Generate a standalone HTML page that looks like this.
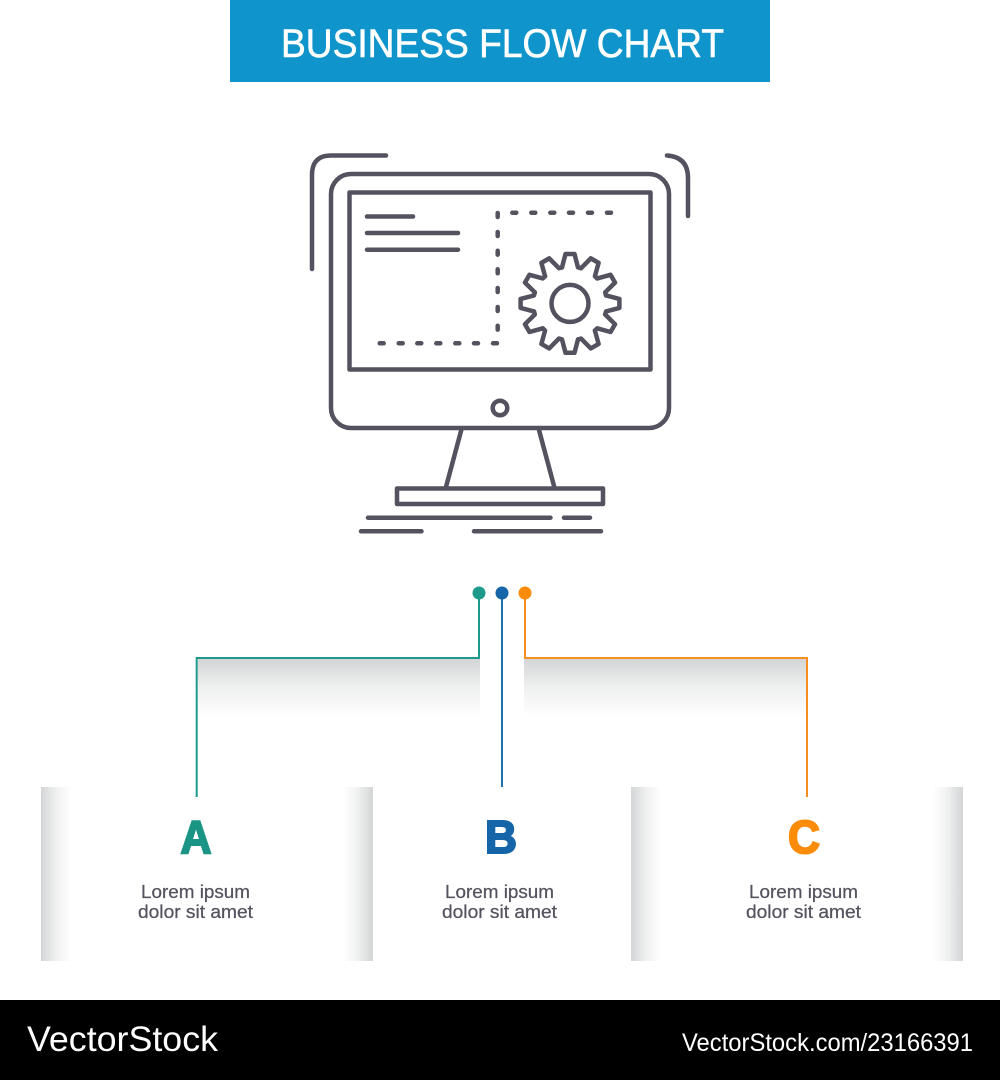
<!DOCTYPE html>
<html>
<head>
<meta charset="utf-8">
<title>Business Flow Chart</title>
<style>
html,body{margin:0;padding:0;background:#fff;width:1000px;height:1080px;overflow:hidden}
svg{display:block}
text{font-family:"Liberation Sans",sans-serif}
</style>
</head>
<body>
<svg width="1000" height="1080" viewBox="0 0 1000 1080" xmlns="http://www.w3.org/2000/svg">
<defs>
<linearGradient id="sd" x1="0" y1="0" x2="0" y2="1"><stop offset="0" stop-color="#d3d5d6"/><stop offset="0.5" stop-color="#eff0f0"/><stop offset="1" stop-color="#fff"/></linearGradient>
<linearGradient id="sl" x1="0" y1="0" x2="1" y2="0"><stop offset="0" stop-color="#d3d5d6"/><stop offset="0.5" stop-color="#eff0f0"/><stop offset="1" stop-color="#fff"/></linearGradient>
<linearGradient id="sr" x1="1" y1="0" x2="0" y2="0"><stop offset="0" stop-color="#d3d5d6"/><stop offset="0.5" stop-color="#eff0f0"/><stop offset="1" stop-color="#fff"/></linearGradient>
<path id="t" d="M-8,-36 L-4.5,-49.4 L4.5,-49.4 L8,-36 L11.07,-35.18"/>
</defs>
<rect width="1000" height="1080" fill="#fff"/>

<!-- Banner -->
<rect x="230" y="0" width="540" height="82" fill="#0f94cb"/>
<text x="281" y="57" font-size="40" fill="#fff" stroke="#fff" stroke-width="0.6" textLength="443" lengthAdjust="spacingAndGlyphs">BUSINESS FLOW CHART</text>

<!-- Icon -->
<g fill="none" stroke="#55525f" stroke-width="4.5" stroke-linecap="round" stroke-linejoin="round">
<path d="M312,269 V175 Q312,155.5 331,155.5 H386"/>
<path d="M667,155.5 Q688,157 688,178 V216"/>
<rect x="331" y="174" width="338" height="254" rx="20"/>
<rect x="349.5" y="192.5" width="301" height="177"/>
<path d="M367,216.5 H413 M367,233 H458 M367,249.7 H458"/>
<g>
<path d="M497.7,213 V217 M497.7,232 V236 M497.7,250.7 V254.7 M497.7,269.3 V273.3 M497.7,288 V292 M497.7,307 V311 M497.7,325.7 V329.7"/>
<path d="M512.3,212.7 H516.3 M531.3,212.7 H535.3 M550.3,212.7 H554.3 M569,212.7 H573 M588,212.7 H592 M607,212.7 H611"/>
<path d="M379.7,343.3 H383.7 M398.7,343.3 H402.7 M417.3,343.3 H421.3 M436.3,343.3 H440.3 M455.3,343.3 H459.3 M474,343.3 H478 M493,343.3 H497"/>
</g>
<g transform="translate(570,303.4)">
<use href="#t"/><use href="#t" transform="rotate(30)"/><use href="#t" transform="rotate(60)"/><use href="#t" transform="rotate(90)"/>
<use href="#t" transform="rotate(120)"/><use href="#t" transform="rotate(150)"/><use href="#t" transform="rotate(180)"/><use href="#t" transform="rotate(210)"/>
<use href="#t" transform="rotate(240)"/><use href="#t" transform="rotate(270)"/><use href="#t" transform="rotate(300)"/><use href="#t" transform="rotate(330)"/>
<circle r="18.5"/>
</g>
<circle cx="500" cy="408" r="7.3"/>
<path d="M461.3,430 L446,487 M539,430 L554.3,487"/>
<rect x="397" y="488.5" width="206" height="15.5"/>
<path d="M368,517.7 H550.5 M564,517.7 H590 M361,531.3 H421.5 M474,531.3 H601"/>
</g>

<!-- Connector shadows -->
<rect x="198" y="659" width="282" height="58" fill="url(#sd)"/>
<rect x="524" y="659" width="283" height="58" fill="url(#sd)"/>

<!-- Connectors -->
<g fill="none" stroke-width="2">
<path d="M479,593 V658 H196.7 V797" stroke="#1d9a8c"/>
<path d="M502,593 V787" stroke="#1f6fb2"/>
<path d="M525,593 V658 H807 V797" stroke="#f78f1e"/>
</g>
<circle cx="479" cy="593" r="6.5" fill="#1d9a8c"/>
<circle cx="502" cy="593" r="6.5" fill="#1565a8"/>
<circle cx="525" cy="593" r="6.5" fill="#fb8c0a"/>

<!-- Panels -->
<rect x="41" y="787" width="30" height="174" fill="url(#sl)"/>
<rect x="343" y="787" width="30" height="174" fill="url(#sr)"/>
<rect x="631" y="787" width="30" height="174" fill="url(#sl)"/>
<rect x="933" y="787" width="30" height="174" fill="url(#sr)"/>

<!-- Letters -->
<g font-size="46" font-weight="bold" stroke-width="2">
<text x="180.5" y="853" fill="#1a9585" stroke="#1a9585" textLength="31" lengthAdjust="spacingAndGlyphs">A</text>
<text x="485" y="853" fill="#1565a8" stroke="#1565a8" textLength="32" lengthAdjust="spacingAndGlyphs">B</text>
<text x="788" y="853" fill="#fb8c0a" stroke="#fb8c0a" textLength="32" lengthAdjust="spacingAndGlyphs">C</text>
</g>

<!-- Descriptions -->
<g font-size="18" fill="#55525f" stroke="#55525f" stroke-width="0.25">
<text x="141" y="898" textLength="109" lengthAdjust="spacingAndGlyphs">Lorem ipsum</text>
<text x="138" y="918" textLength="115" lengthAdjust="spacingAndGlyphs">dolor sit amet</text>
<text x="445" y="898" textLength="109" lengthAdjust="spacingAndGlyphs">Lorem ipsum</text>
<text x="442" y="918" textLength="115" lengthAdjust="spacingAndGlyphs">dolor sit amet</text>
<text x="749" y="898" textLength="109" lengthAdjust="spacingAndGlyphs">Lorem ipsum</text>
<text x="746" y="918" textLength="115" lengthAdjust="spacingAndGlyphs">dolor sit amet</text>
</g>

<!-- Footer -->
<rect x="0" y="1000" width="1000" height="80" fill="#000"/>
<text x="27" y="1051" font-size="35.5" fill="#fff" textLength="191" lengthAdjust="spacingAndGlyphs">VectorStock</text>
<text x="682" y="1051" font-size="25" fill="#fff" textLength="291" lengthAdjust="spacingAndGlyphs">VectorStock.com/23166391</text>
</svg>
</body>
</html>
